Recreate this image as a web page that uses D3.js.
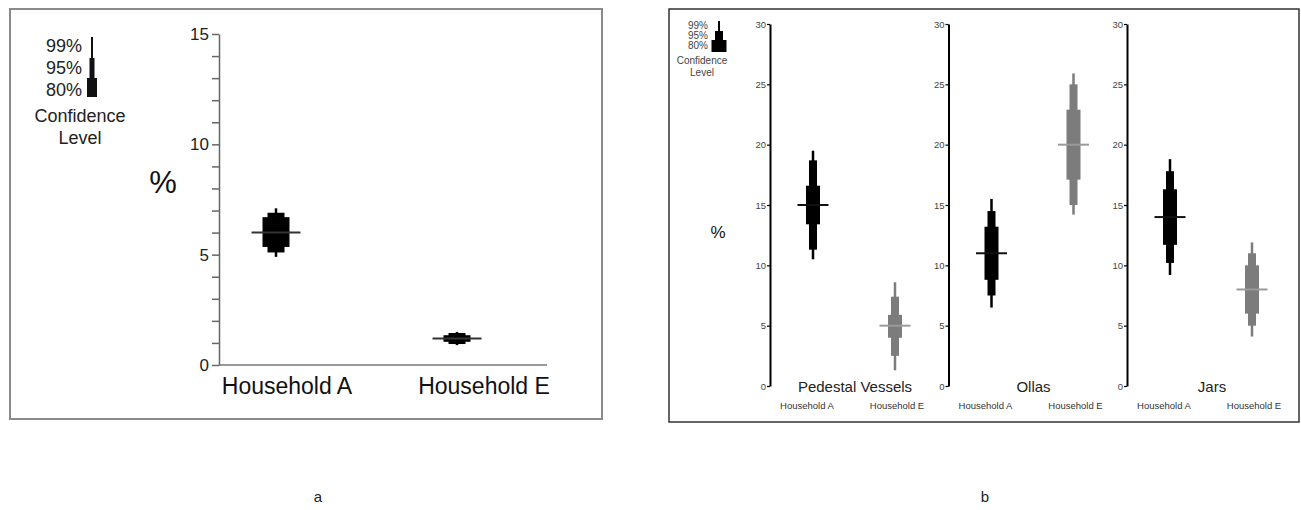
<!DOCTYPE html>
<html>
<head>
<meta charset="utf-8">
<script src="https://cdn.jsdelivr.net/npm/d3@7"></script>
<style>
  body { margin: 0; background: #fff; }
  svg { display: block; font-family: "Liberation Sans", Arial, sans-serif; }
</style>
</head>
<body>
<svg id="chart" width="1301" height="510"></svg>
<script>
// --- panel a data ---
const householdsA = ["Household A", "Household E"];
const aMean = [6.0, 1.2];
const aCI80 = [[5.35, 6.7], [1.05, 1.35]];
const aCI95 = [[5.1, 6.9], [0.95, 1.45]];
const aCI99 = [[4.9, 7.1], [0.9, 1.5]];
const aTickLabels = ["0", "5", "10", "15"];

// --- panel b data ---
const vesselTypes = ["Pedestal Vessels", "Ollas", "Jars"];
const householdsB = ["Household A", "Household E"];
const bMean = [[15, 5], [11, 20], [14, 8]];
const bCI80 = [[[13.4, 16.6], [4.0, 5.9]], [[8.8, 13.2], [17.1, 22.9]], [[11.7, 16.3], [6.0, 10.0]]];
const bCI95 = [[[11.3, 18.7], [2.5, 7.4]], [[7.5, 14.5], [15.0, 25.0]], [[10.2, 17.8], [5.0, 11.0]]];
const bCI99 = [[[10.5, 19.5], [1.3, 8.6]], [[6.5, 15.5], [14.2, 25.9]], [[9.2, 18.8], [4.1, 11.9]]];
const bTickLabels = ["0", "5", "10", "15", "20", "25", "30"];

const levels = ["99%", "95%", "80%"];

const svg = d3.select("#chart");

// frames
svg.append("rect").attr("x", 10).attr("y", 9).attr("width", 592).attr("height", 410)
  .attr("fill", "none").attr("stroke", "#8a8a8a").attr("stroke-width", 2);
svg.append("rect").attr("x", 669).attr("y", 9).attr("width", 630).attr("height", 413)
  .attr("fill", "none").attr("stroke", "#333").attr("stroke-width", 1.5);

// ================= panel a =================
const ga = svg.append("g");
const yA = d3.scaleLinear().domain([0, 15]).range([365, 34]);
const xA = d3.scalePoint().domain(householdsA).range([276, 457]);
const xALabel = d3.scalePoint().domain(householdsA).range([287, 484]);

// minor ticks every 1 unit
const axA = ga.append("g").attr("transform", "translate(219,0)")
  .call(d3.axisLeft(yA).tickValues(d3.range(0, 16, 1)).tickSize(7).tickSizeOuter(0)
    .tickFormat(d => aTickLabels.includes(String(d)) ? String(d) : ""));
axA.select(".domain").attr("stroke", "#666").attr("stroke-width", 1.5);
axA.selectAll(".tick line").attr("stroke", "#666").attr("stroke-width", 1.5);
axA.selectAll(".tick text").attr("font-size", 17).attr("fill", "#222")
  .attr("font-family", "Liberation Sans, Arial, sans-serif").attr("x", -10);

ga.append("line").attr("x1", 219).attr("x2", 547).attr("y1", yA(0)).attr("y2", yA(0))
  .attr("stroke", "#777").attr("stroke-width", 1.5);

ga.append("text").attr("x", 163).attr("y", 193).attr("text-anchor", "middle")
  .attr("font-size", 31).attr("fill", "#111").text("%");

ga.selectAll(".hlab").data(householdsA).enter().append("text")
  .attr("x", d => xALabel(d)).attr("y", 394).attr("text-anchor", "middle")
  .attr("font-size", 23).attr("fill", "#111").text(d => d);

function drawCI(g, x, y, mean, c99, c95, c80, w, color, meanColor, meanW) {
  g.append("rect").attr("x", x - w[0] / 2).attr("width", w[0])
    .attr("y", y(c99[1])).attr("height", y(c99[0]) - y(c99[1])).attr("fill", color);
  g.append("rect").attr("x", x - w[1] / 2).attr("width", w[1])
    .attr("y", y(c95[1])).attr("height", y(c95[0]) - y(c95[1])).attr("fill", color);
  g.append("rect").attr("x", x - w[2] / 2).attr("width", w[2])
    .attr("y", y(c80[1])).attr("height", y(c80[0]) - y(c80[1])).attr("fill", color);
  g.append("line").attr("x1", x - meanW / 2).attr("x2", x + meanW / 2)
    .attr("y1", y(mean)).attr("y2", y(mean)).attr("stroke", meanColor).attr("stroke-width", 2);
}

householdsA.forEach((h, i) => {
  drawCI(ga, xA(h), yA, aMean[i], aCI99[i], aCI95[i], aCI80[i], [2.5, 17, 27], "#000", "#333", 49);
});

// legend a
const legA = svg.append("g");
[52, 74, 96].forEach((by, i) => {
  legA.append("text").attr("x", 82).attr("y", by).attr("text-anchor", "end")
    .attr("font-size", 18).attr("fill", "#222").text(levels[i]);
});
legA.append("rect").attr("x", 91).attr("y", 37).attr("width", 2).attr("height", 21).attr("fill", "#111");
legA.append("rect").attr("x", 89.5).attr("y", 58).attr("width", 5).attr("height", 20).attr("fill", "#111");
legA.append("rect").attr("x", 87).attr("y", 78).attr("width", 10).attr("height", 19).attr("fill", "#111");
legA.append("text").attr("x", 80).attr("y", 122).attr("text-anchor", "middle")
  .attr("font-size", 18).attr("fill", "#222").text("Confidence");
legA.append("text").attr("x", 80).attr("y", 144).attr("text-anchor", "middle")
  .attr("font-size", 18).attr("fill", "#222").text("Level");

// ================= panel b =================
const gb = svg.append("g");
const yB = d3.scaleLinear().domain([0, 30]).range([386, 24]);
const axisX = d3.scalePoint().domain(vesselTypes).range([770, 1127]);
const xB = d3.scalePoint().domain(householdsB).range([43, 125]);
const xBLabel = d3.scalePoint().domain(householdsB).range([37, 127]);
const colorsB = { "Household A": "#000", "Household E": "#7c7c7c" };
const meanColorsB = { "Household A": "#111", "Household E": "#9a9a9a" };

vesselTypes.forEach((v, vi) => {
  const ax = axisX(v);
  const g = gb.append("g");
  const axis = g.append("g").attr("transform", `translate(${ax},0)`)
    .call(d3.axisLeft(yB).tickValues(d3.range(0, 31, 5)).tickSize(3).tickSizeOuter(0)
      .tickFormat((d, i) => bTickLabels[i]));
  axis.select(".domain").attr("stroke", "#000").attr("stroke-width", 2);
  axis.selectAll(".tick line").attr("stroke", "#000").attr("stroke-width", 1.2);
  axis.selectAll(".tick text").attr("font-size", 9.5).attr("fill", "#444")
    .attr("font-family", "Liberation Sans, Arial, sans-serif").attr("x", -4);

  householdsB.forEach((h, hi) => {
    drawCI(g, ax + xB(h), yB, bMean[vi][hi], bCI99[vi][hi], bCI95[vi][hi], bCI80[vi][hi],
      [2.5, 8, 14], colorsB[h], meanColorsB[h], 31);
    g.append("text").attr("x", ax + xBLabel(h)).attr("y", 409).attr("text-anchor", "middle")
      .attr("font-size", 9.5).attr("fill", "#333").text(h);
  });

  g.append("text").attr("x", ax + 85).attr("y", 392).attr("text-anchor", "middle")
    .attr("font-size", 15).attr("fill", "#222").text(v);
});

gb.append("text").attr("x", 718).attr("y", 238).attr("text-anchor", "middle")
  .attr("font-size", 17).attr("fill", "#111").text("%");

// legend b
const legB = svg.append("g");
[29, 39, 49].forEach((by, i) => {
  legB.append("text").attr("x", 708).attr("y", by).attr("text-anchor", "end")
    .attr("font-size", 10).attr("fill", "#444").text(levels[i]);
});
legB.append("rect").attr("x", 718).attr("y", 21).attr("width", 2).attr("height", 11).attr("fill", "#000");
legB.append("rect").attr("x", 715).attr("y", 31).attr("width", 8).attr("height", 9).attr("fill", "#000");
legB.append("rect").attr("x", 711.5).attr("y", 40).attr("width", 15).attr("height", 12).attr("fill", "#000");
legB.append("text").attr("x", 702).attr("y", 64).attr("text-anchor", "middle")
  .attr("font-size", 10).attr("fill", "#444").text("Confidence");
legB.append("text").attr("x", 702).attr("y", 76).attr("text-anchor", "middle")
  .attr("font-size", 10).attr("fill", "#444").text("Level");

// panel letters
svg.append("text").attr("x", 318).attr("y", 502).attr("text-anchor", "middle")
  .attr("font-size", 15).attr("fill", "#222").text("a");
svg.append("text").attr("x", 985).attr("y", 502).attr("text-anchor", "middle")
  .attr("font-size", 15).attr("fill", "#222").text("b");
</script>
</body>
</html>
